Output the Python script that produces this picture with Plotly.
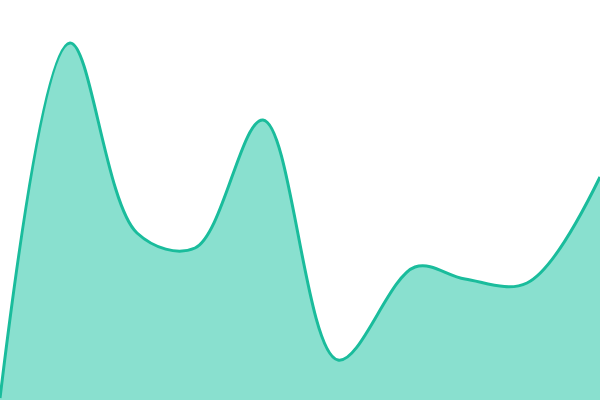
import plotly.graph_objects as go

# sample positions and heights
x_vals = [0, 70, 137, 195, 263, 338, 415, 465, 527, 600]
y_vals = [2, 357, 167, 152, 280, 40, 133, 121, 117, 223]

fig = go.Figure(
    go.Scatter(
        x=x_vals,
        y=y_vals,
        mode="lines",
        line=dict(color="#1abc9c", width=3, shape="spline", smoothing=1),
        fill="tozeroy",
        fillcolor="#89e0cf",
        hoverinfo="skip",
    )
)

fig.update_layout(
    width=600,
    height=400,
    margin=dict(l=0, r=0, t=0, b=0),
    paper_bgcolor="white",
    plot_bgcolor="white",
    showlegend=False,
    xaxis=dict(range=[0, 600], visible=False, fixedrange=True),
    yaxis=dict(range=[0, 400], visible=False, fixedrange=True),
)

# drop the default body margin so the chart fills the window
fig.write_html(
    "out.html",
    config={"displayModeBar": False},
    post_script="document.body.style.margin='0';document.body.style.overflow='hidden';",
)
